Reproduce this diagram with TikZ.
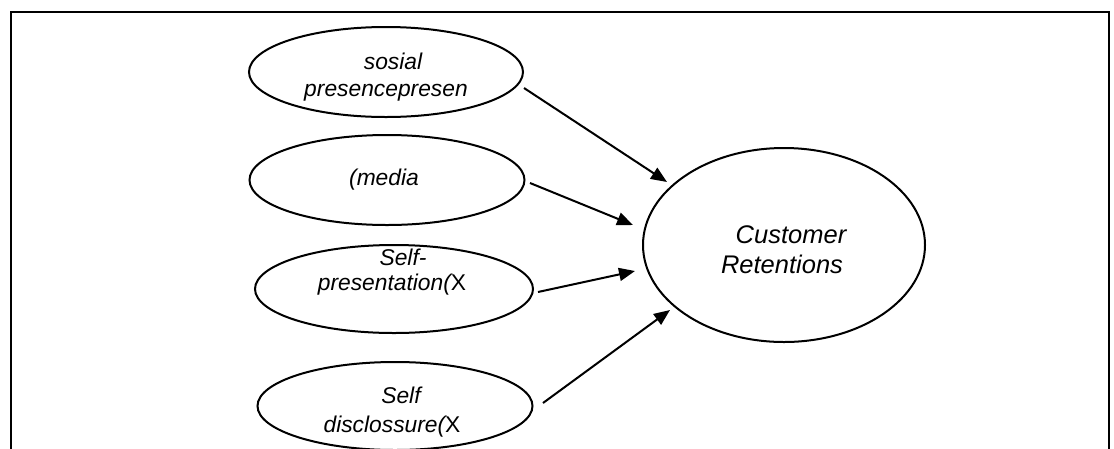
\documentclass[tikz,border=0pt]{standalone}
\usepackage{fontspec}
\setmainfont{Liberation Sans}
\usetikzlibrary{shapes.geometric,arrows.meta}
\tikzset{
  oval/.style={draw=black,line width=2pt,ellipse,inner sep=0pt},
  lbl/.style={anchor=base,inner sep=0pt,font=\fontsize{22.8}{25.7}\selectfont\itshape},
  biglbl/.style={anchor=base,inner sep=0pt,font=\fontsize{25.5}{29}\selectfont\itshape},
  arr/.style={line width=2pt,-{Triangle[length=16pt,width=13pt]}},
}
\begin{document}
\begin{tikzpicture}[x=1pt,y=-1pt]
\useasboundingbox (0,0) rectangle (1114,448);
\clip (0,0) rectangle (1114,448);
\node[draw=black,line width=2.2pt,minimum width=1098pt,minimum height=460pt,anchor=north west,inner sep=0pt] (frame) at (10,11) {};
% ellipses
\node[oval,minimum width=274pt,minimum height=90pt] (e1) at (386,72) {};
\node[oval,minimum width=275pt,minimum height=90pt] (e2) at (387,180) {};
\node[oval,minimum width=278pt,minimum height=88pt] (e3) at (394,289) {};
\node[oval,minimum width=275pt,minimum height=88pt] (e4) at (395,406) {};
\node[oval,minimum width=282pt,minimum height=194pt] (cr) at (784,245) {};
% labels
\node[lbl] (t1a) at (393,69) {sosial};
\node[lbl] (t1b) at (386,96) {presencepresen};
\node[lbl] (t2a) at (384,185) {(media};
\node[lbl] (t3a) at (403,265) {Self-};
\node[lbl] (t3b) at (392,290) {presentation(\upshape X};
\node[lbl] (t4a) at (401,403) {Self};
\node[lbl] (t4b) at (392,432) {disclossure(\upshape X};
\node[biglbl] (c1) at (791,243) {Customer};
\node[biglbl] (c2) at (782,273) {Retentions};
% arrow end points
\coordinate (s1) at (524,88);
\coordinate (p1) at (667,182);
\coordinate (s2) at (530,183);
\coordinate (p2) at (633,225);
\coordinate (s3) at (538,292);
\coordinate (p3) at (635,271);
\coordinate (s4) at (543,403);
\coordinate (p4) at (670,310);
\draw[arr] (s1) -- (p1);
\draw[arr] (s2) -- (p2);
\draw[arr] (s3) -- (p3);
\draw[arr] (s4) -- (p4);
\end{tikzpicture}
\end{document}
